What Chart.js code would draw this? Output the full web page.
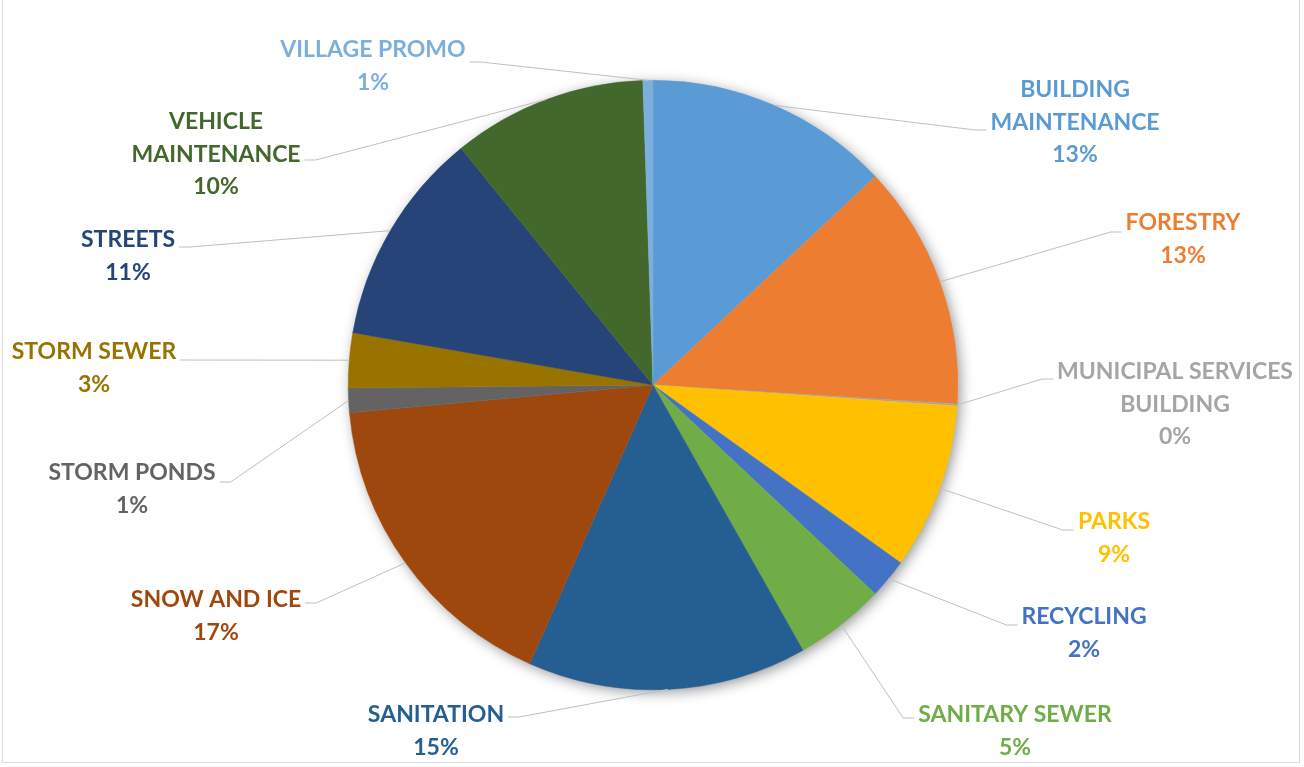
<!DOCTYPE html>
<html>
<head>
<meta charset="utf-8">
<script src="https://cdn.jsdelivr.net/npm/chart.js@4.4.1/dist/chart.umd.min.js"></script>
<style>
  html, body { margin: 0; padding: 0; background: #fff; }
  #wrap { position: relative; width: 1304px; height: 767px; }
  #frame { position: absolute; left: 2px; top: -2px; width: 1298px; height: 765px; border: 1px solid #d9d9d9; box-sizing: border-box; pointer-events: none; }
</style>
</head>
<body>
<div id="wrap">
  <canvas id="budgetChart" width="1304" height="767"></canvas>
  <div id="frame"></div>
</div>
<script>
const categories = [
    ['BUILDING', 'MAINTENANCE'],
    ['FORESTRY'],
    ['MUNICIPAL SERVICES', 'BUILDING'],
    ['PARKS'],
    ['RECYCLING'],
    ['SANITARY SEWER'],
    ['SANITATION'],
    ['SNOW AND ICE'],
    ['STORM PONDS'],
    ['STORM SEWER'],
    ['STREETS'],
    ['VEHICLE', 'MAINTENANCE'],
    ['VILLAGE PROMO']
];
const shares = [13.0, 12.97, 0.1, 8.8, 2.1, 4.8, 14.8, 16.9, 1.3, 2.9, 11.4, 10.3, 0.53];

const sliceColors = ['#5B9BD5', '#ED7D31', '#A5A5A5', '#FFC000', '#4472C4', '#70AD47',
    '#255E91', '#9E480E', '#636363', '#997300', '#264478', '#43682B', '#7CAFDD'];

// where each data label sits: centre x, first line y, leader attach offset
const labelSpots = [
    [1075, 90, 40], [1183, 223, 9], [1175, 372, 7], [1114, 522, 8], [1084, 617, 8],
    [1015, 715, 3], [436, 715, 2], [216, 600, 3], [132, 473, 9], [94, 352, 8],
    [128, 240, 7], [216, 122, 38], [373, 50, 12]
];

const pieShadow = {
    id: 'pieShadow',
    beforeDatasetsDraw(chart) {
        const arc = chart.getDatasetMeta(0).data[0];
        if (!arc) return;
        const { x, y, outerRadius } = arc.getProps(['x', 'y', 'outerRadius'], true);
        const c = chart.ctx;
        c.save();
        c.shadowColor = 'rgba(0,0,0,0.45)';
        c.shadowBlur = 14;
        c.shadowOffsetX = 3;
        c.shadowOffsetY = 3;
        c.fillStyle = '#ffffff';
        c.beginPath();
        c.arc(x, y, outerRadius - 1, 0, Math.PI * 2);
        c.fill();
        c.restore();
    }
};

const outsideLabels = {
    id: 'outsideLabels',
    afterDatasetsDraw(chart) {
        const c = chart.ctx;
        const meta = chart.getDatasetMeta(0);
        const total = shares.reduce((a, b) => a + b, 0);
        const lineH = 32.5;
        c.save();
        c.font = 'bold 23px Lato, "Open Sans", sans-serif';
        c.textAlign = 'center';
        c.textBaseline = 'middle';
        meta.data.forEach((arc, i) => {
            const p = arc.getProps(['x', 'y', 'startAngle', 'endAngle', 'outerRadius'], true);
            const mid = (p.startAngle + p.endAngle) / 2;
            const ex = p.x + Math.cos(mid) * p.outerRadius;
            const ey = p.y + Math.sin(mid) * p.outerRadius;
            const [lx, ly, dy] = labelSpots[i];
            const lines = categories[i].concat([Math.round(shares[i] / total * 100) + '%']);
            const w = Math.max(...lines.map(t => c.measureText(t).width));
            const right = lx > p.x;
            const ax = right ? lx - w / 2 - 4 : lx + w / 2 + 4;
            const ay = ly + dy;
            const kx = right ? ax - 11 : ax + 11;

            c.strokeStyle = '#bfbfbf';
            c.lineWidth = 1;
            c.beginPath();
            c.moveTo(ex, ey);
            c.lineTo(kx, ay);
            c.lineTo(ax, ay);
            c.stroke();

            c.fillStyle = sliceColors[i];
            lines.forEach((t, k) => c.fillText(t, lx, ly + k * lineH));
        });
        c.restore();
    }
};

const ctx = document.getElementById('budgetChart').getContext('2d');
const budgetChart = new Chart(ctx, {
    type: 'pie',
    data: {
        labels: categories,
        datasets: [{
            data: shares,
            backgroundColor: sliceColors,
            borderColor: sliceColors,
            borderWidth: 0.5
        }]
    },
    options: {
        responsive: false,
        animation: false,
        layout: {
            padding: { top: 80, bottom: 77, left: 348, right: 346 }
        },
        plugins: {
            legend: { display: false },
            tooltip: { enabled: false }
        }
    },
    plugins: [pieShadow, outsideLabels]
});
</script>
</body>
</html>
